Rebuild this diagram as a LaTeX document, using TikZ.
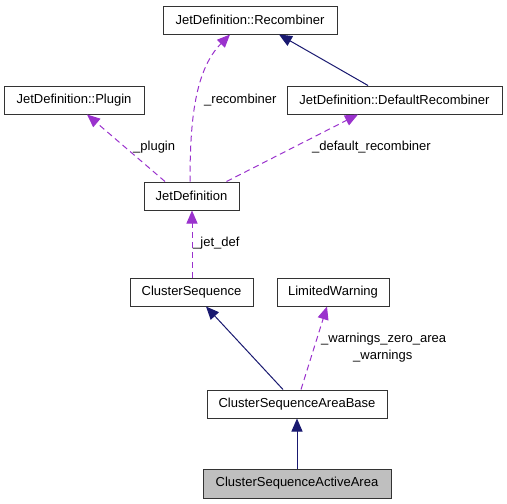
\documentclass[tikz,border=0pt]{standalone}
\usepackage{fontspec}
\setmainfont{Liberation Sans}
\usetikzlibrary{arrows.meta}
\definecolor{navy}{HTML}{191970}
\definecolor{orchid}{HTML}{9A32CD}
\definecolor{boxc}{HTML}{333333}
\definecolor{shade}{HTML}{BFBFBF}
\begin{document}
\begin{tikzpicture}[x=1pt,y=-1pt,
  box/.style={draw=boxc, line width=1pt, minimum height=28pt, inner sep=0pt, font=\fontsize{13}{15}\selectfont, fill=white},
  lbl/.style={inner sep=0pt, anchor=base west, font=\fontsize{13}{15}\selectfont},
  inh/.style={draw=navy, line width=1pt, -{Triangle[length=13pt,width=11pt,fill=navy]}},
  use/.style={draw=orchid, line width=1pt, dash pattern=on 6pt off 4pt, -{Triangle[length=13pt,width=11pt,fill=orchid]}},
]
\useasboundingbox (0,0) rectangle (507,504);
\node[box, minimum width=174pt] (rec) at (250,20) {JetDefinition::Recombiner};
\node[box, minimum width=140pt] (plugin) at (74,100) {JetDefinition::Plugin};
\node[box, minimum width=215pt] (defrec) at (394.5,100) {JetDefinition::DefaultRecombiner};
\node[box, minimum width=95pt] (jetdef) at (191.5,196) {JetDefinition};
\node[box, minimum width=123pt] (cs) at (191.5,292) {ClusterSequence};
\node[box, minimum width=112pt] (lw) at (333,292) {LimitedWarning};
\node[box, minimum width=180pt] (csab) at (297,404) {ClusterSequenceAreaBase};
\node[box, minimum width=188pt, minimum height=29pt, fill=shade] (csaa) at (297,483.5) {ClusterSequenceActiveArea};

\draw[use] ([xshift=-26.5pt]jetdef.north) -- ([xshift=13pt]plugin.south);
\draw[use] ([xshift=-1.5pt]jetdef.north) .. controls (190,120) and (195,70) .. ([xshift=-20pt]rec.south);
\draw[use] ([xshift=35pt]jetdef.north) -- ([xshift=-36.5pt]defrec.south);
\draw[inh] ([xshift=-26.5pt]defrec.north) -- ([xshift=29pt]rec.south);
\draw[use] ([xshift=0.5pt]cs.north) -- ([xshift=0.5pt]jetdef.south);
\draw[inh] ([xshift=-14pt]csab.north) -- ([xshift=14.5pt]cs.south);
\draw[use] ([xshift=4pt]csab.north) -- ([xshift=-6pt]lw.south);
\draw[inh] (csaa.north) -- (csab.south);

\node[lbl] (l1) at (204,103.5) {\_recombiner};
\node[lbl] (l2) at (133,150.5) {\_plugin};
\node[lbl] (l3) at (312,150.5) {\_default\_recombiner};
\node[lbl] (l4) at (193,246.5) {\_jet\_def};
\node[lbl] (l5) at (321,342) {\_warnings\_zero\_area};
\node[lbl] (l6) at (353,359.5) {\_warnings};
\end{tikzpicture}
\end{document}
